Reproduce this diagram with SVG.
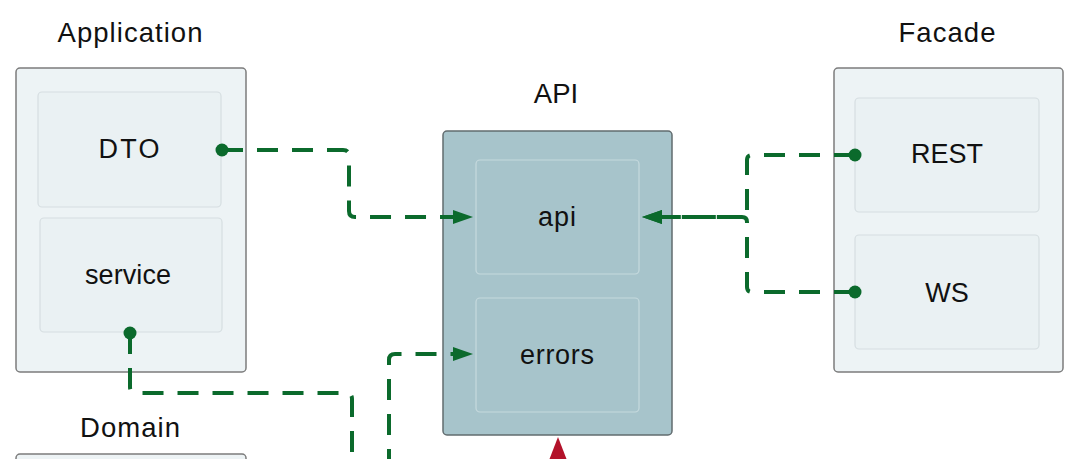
<svg xmlns="http://www.w3.org/2000/svg" width="1080" height="459" viewBox="0 0 1080 459">
  <style>
    .title { font-family: "Liberation Sans", Arial, sans-serif; font-size: 27.5px; fill: #111; text-anchor: middle; }
    .label { font-family: "Liberation Sans", Arial, sans-serif; font-size: 27px; fill: #111; text-anchor: middle; }
    .outer { fill: #edf3f5; stroke: #7c7c7c; stroke-width: 1.5; }
    .inner { fill: #eaf1f3; stroke: #d6dee1; stroke-width: 1.2; }
    .outerApi { fill: #a7c4cb; stroke: #626c6f; stroke-width: 1.5; }
    .innerApi { fill: #a7c4cb; stroke: #c6dade; stroke-width: 1.2; }
    .dep { fill: none; stroke: #0b6a2c; stroke-width: 4; stroke-dasharray: 21 14; }
    .dot { fill: #0b6a2c; }
  </style>
  <defs>
    <marker id="arrow" markerUnits="userSpaceOnUse" markerWidth="20" markerHeight="14" refX="5" refY="7" orient="auto">
      <path d="M0,0 L20,7 L0,14 Z" fill="#0b6a2c"/>
    </marker>
  </defs>
  <rect width="1080" height="459" fill="#ffffff"/>

  <g id="application">
    <text class="title" x="130" y="42" textLength="145" lengthAdjust="spacing">Application</text>
    <rect class="outer" x="16" y="68" width="230" height="304" rx="4"/>
    <g id="dto">
      <rect class="inner" x="38" y="92" width="183" height="115" rx="4"/>
      <text class="label" x="129" y="158" textLength="61" lengthAdjust="spacing">DTO</text>
    </g>
    <g id="service">
      <rect class="inner" x="40" y="218" width="182" height="114" rx="4"/>
      <text class="label" x="128" y="284" textLength="86" lengthAdjust="spacing">service</text>
    </g>
  </g>

  <g id="api-group">
    <text class="title" x="556" y="103">API</text>
    <rect class="outerApi" x="443" y="131" width="229" height="304" rx="4"/>
    <g id="api">
      <rect class="innerApi" x="476" y="160" width="163" height="114" rx="4"/>
      <text class="label" x="557" y="226" textLength="38" lengthAdjust="spacing">api</text>
    </g>
    <g id="errors">
      <rect class="innerApi" x="476" y="298" width="163" height="114" rx="4"/>
      <text class="label" x="557" y="364" textLength="74" lengthAdjust="spacing">errors</text>
    </g>
  </g>

  <g id="facade">
    <text class="title" x="947" y="42" textLength="97" lengthAdjust="spacing">Facade</text>
    <rect class="outer" x="834" y="68" width="229" height="304" rx="4"/>
    <g id="rest">
      <rect class="inner" x="855" y="98" width="184" height="114" rx="4"/>
      <text class="label" x="947" y="163">REST</text>
    </g>
    <g id="ws">
      <rect class="inner" x="855" y="235" width="184" height="114" rx="4"/>
      <text class="label" x="947" y="302">WS</text>
    </g>
  </g>

  <g id="domain">
    <text class="title" x="130" y="437" textLength="100" lengthAdjust="spacing">Domain</text>
    <rect class="outer" x="16" y="454" width="230" height="120" rx="4"/>
  </g>

  <g id="connectors">
    <path class="dep" d="M222,150 H343 Q349,150 349,156 V211 Q349,217 355,217 H458" marker-end="url(#arrow)"/>
    <path class="dep" d="M855,155 H752 Q747,155 747,160 V212 Q747,217 742,217 H657" marker-end="url(#arrow)"/>
    <path class="dep" d="M855,292 H752 Q747,292 747,287 V222 Q747,217 742,217 H657" marker-end="url(#arrow)"/>
    <path class="dep" d="M130,333 V387 Q130,393 136,393 H346 Q352,393 352,399 V470"/>
    <path class="dep" d="M389,470 V360 Q389,354 395,354 H458" marker-end="url(#arrow)"/>
    <circle class="dot" cx="222" cy="150" r="6.5"/>
    <circle class="dot" cx="130" cy="333" r="6.5"/>
    <circle class="dot" cx="855" cy="155" r="6.5"/>
    <circle class="dot" cx="855" cy="292" r="6.5"/>
    <polygon points="558,437 549.5,459 566.5,459" fill="#b3122a"/>
  </g>
</svg>
